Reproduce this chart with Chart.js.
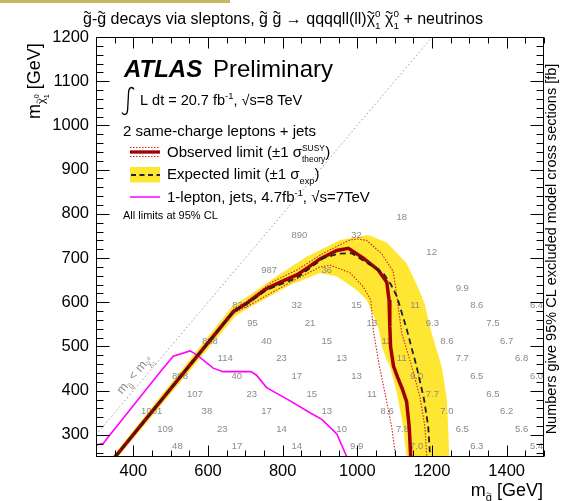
<!DOCTYPE html>
<html><head><meta charset="utf-8">
<script src="https://cdn.jsdelivr.net/npm/chart.js@4.4.1/dist/chart.umd.min.js"></script>
<style>html,body{margin:0;padding:0;background:#fff;}#wrap{width:563px;height:501px;position:relative;}</style>
</head><body><div id="wrap"><canvas id="c" width="563" height="501"></canvas></div>
<script>
// ---------- data ----------
const xTickLabels = [400, 600, 800, 1000, 1200, 1400];
const yTickLabels = [300, 400, 500, 600, 700, 800, 900, 1000, 1100, 1200];
const observedLimit = [[351,250],[668,579],[704,598],[757,631],[800,648],[838,662],[870,680],[900,698],[945,717],[976,722],[1016,700],[1056,673],[1079,645],[1085,605],[1087,545],[1089,500],[1097,455],[1108,430],[1120,405],[1132,375],[1139,318],[1143,250]];
const observedUp = [[349,250],[668,583],[704,602],[770,645],[838,673],[909,711],[980,741],[1000,743],[1025,740],[1065,710],[1096,670],[1104,625],[1119,530],[1146,454],[1168,385],[1181,318],[1186,250]];
const observedDown = [[353,250],[668,575],[704,590],[820,645],[900,680],[927,684],[980,667],[1016,635],[1036,605],[1043,535],[1058,460],[1075,390],[1092,318],[1103,250]];
const expectedLimit = [[351,250],[668,579],[704,596],[757,628],[838,655],[909,700],[950,710],[985,711],[1043,680],[1070,665],[1090,640],[1106,613],[1132,540],[1146,495],[1159,454],[1179,379],[1190,318],[1195,250]];
const expectedBandUp = [[343,250],[664,590],[704,612],[775,654],[864,703],[954,741],[1029,752],[1079,735],[1132,688],[1159,640],[1180,598],[1199,530],[1226,454],[1240,379],[1244,303],[1246,250]];
const expectedBandDown = [[359,250],[672,568],[704,585],[820,639],[900,666],[945,658],[998,628],[1025,605],[1045,567],[1058,537],[1066,500],[1079,469],[1088,454],[1106,395],[1123,318],[1132,250]];
const oneLepton7TeV = [[300,277],[320,281],[337,300],[476,447],[507,478],[552,490],[570,481],[614,451],[640,443],[715,443],[730,435],[757,407],[820,377],[873,350],[905,335],[945,302],[972,250]];
const kinematicDiagonal = [[300,300],[1200,1200]];
// excluded cross sections [fb]
const xsecText = ['18','890','32','12','987','36','9.9',
 '838','32','15','11','8.6','6.4',
 '95','21','13','9.3','7.5',
 '888','40','15','12','8.6','6.7',
 '114','23','13','11','7.7','6.8',
 '898','40','17','13','9.0','6.5','6.0',
 '107','23','15','11','7.7','6.5',
 '1001','38','17','13','8.6','7.0','6.2',
 '109','23','14','10','7.8','6.5','5.6',
 '48','17','14','9.9','7.0','6.3','5.4'];
const xsecGluino = [1119,845,998,1199,764,918,1281,
 686,838,998,1155,1320,1480,
 719,873,1039,1201,1363,
 605,757,918,1079,1240,1400,
 646,797,958,1119,1281,1440,
 525,677,838,998,1159,1320,1480,
 565,717,878,1039,1201,1363,
 449,597,757,918,1080,1240,1400,
 485,638,797,958,1121,1281,1440,
 518,678,838,998,1159,1320,1480];
const xsecNeutralino = [792,752,752,712,671,671,632,
 592,592,592,592,592,592,
 552,552,552,552,552,
 512,512,512,512,512,512,
 472,472,472,472,472,472,
 432,432,432,432,432,432,432,
 392,392,392,392,392,392,
 354,354,354,354,354,354,354,
 313,313,313,313,313,313,313,
 273,273,273,273,273,273,273];

// ---------- helpers ----------
const FONT = "'Liberation Sans', Arial, Helvetica, sans-serif";
function setFont(ctx, size, style){ ctx.font = (style ? style + ' ' : '') + size + 'px ' + FONT; }
function partWidth(ctx, p, base){
  const s = base * (p.s || 1);
  setFont(ctx, s, p.f);
  if (p.st) return Math.max(...p.st.map(q => ctx.measureText(q.t).width));
  return ctx.measureText(p.t).width;
}
function drawTilde(ctx, cx, ty, s){
  const hw = s * 0.2, a = s * 0.055;
  ctx.save(); ctx.beginPath();
  for (let i = 0; i <= 14; i++){
    const t = i / 14, px = cx - hw + 2 * hw * t, py = ty - a * Math.sin(2 * Math.PI * t);
    if (i) ctx.lineTo(px, py); else ctx.moveTo(px, py);
  }
  ctx.lineWidth = Math.max(0.7, s * 0.065); ctx.strokeStyle = ctx.fillStyle; ctx.setLineDash([]); ctx.stroke(); ctx.restore();
}
function drawRich(ctx, x, y, parts, base, align){
  let w = 0; parts.forEach(p => w += partWidth(ctx, p, base));
  if (align === 'right') x -= w; else if (align === 'center') x -= w / 2;
  ctx.textAlign = 'left'; ctx.textBaseline = 'alphabetic';
  for (const p of parts){
    const s = base * (p.s || 1);
    const pw = partWidth(ctx, p, base);
    if (p.st){ for (const q of p.st) ctx.fillText(q.t, x, y + q.dy * base); }
    else {
      const yy = y + (p.dy || 0) * base;
      ctx.fillText(p.t, x, yy);
      if (p.tilde) drawTilde(ctx, x + pw / 2, yy - s * 0.72, s);
    }
    x += pw;
  }
  return w;
}
const chi01 = () => [{t:'χ', tilde:true}, {st:[{t:'0', dy:-0.42}, {t:'1', dy:0.3}], s:0.62}];

// ---------- plugins ----------
const numbersPlugin = {
  id: 'xsecNumbers',
  afterDatasetDraw(chart, args){
    if (args.index !== 0) return;
    const ctx = chart.ctx, xs = chart.scales.x, ys = chart.scales.y, a = chart.chartArea;
    ctx.save();
    ctx.beginPath(); ctx.rect(a.left, a.top, a.right - a.left, a.bottom - a.top); ctx.clip();
    setFont(ctx, 9.5); ctx.fillStyle = '#8a8a8a'; ctx.textAlign = 'center'; ctx.textBaseline = 'middle';
    for (let i = 0; i < xsecText.length; i++){
      ctx.fillText(xsecText[i], xs.getPixelForValue(xsecGluino[i]), ys.getPixelForValue(xsecNeutralino[i]));
    }
    ctx.restore();
  }
};

const decorPlugin = {
  id: 'decor',
  afterDraw(chart){
    const ctx = chart.ctx, xs = chart.scales.x, ys = chart.scales.y, a = chart.chartArea;
    ctx.save();
    // olive strip
    ctx.fillStyle = '#c8b85c'; ctx.fillRect(0, 0, 230, 3);
    // frame
    ctx.strokeStyle = '#000'; ctx.lineWidth = 1; ctx.setLineDash([]);
    const L = Math.round(a.left) + 0.5, R = Math.round(a.right) - 0.5, T = Math.round(a.top) + 0.5, B = Math.round(a.bottom) - 0.5;
    ctx.strokeRect(L, T, R - L, B - T);
    ctx.beginPath();
    for (let v = 300; v <= 1500; v += 50){
      const p = Math.round(xs.getPixelForValue(v)) + 0.5;
      const len = (v % 200 === 0) ? 11 : 6;
      ctx.moveTo(p, B); ctx.lineTo(p, B - len);
      ctx.moveTo(p, T); ctx.lineTo(p, T + len);
    }
    for (let v = 260; v <= 1200; v += 20){
      const p = Math.round(ys.getPixelForValue(v)) + 0.5;
      const len = (v % 100 === 0) ? 13 : 7;
      ctx.moveTo(L, p); ctx.lineTo(L + len, p);
      ctx.moveTo(R, p); ctx.lineTo(R - len, p);
    }
    ctx.stroke();

    ctx.fillStyle = '#000';
    // title
    const g = {t:'g', tilde:true};
    drawRich(ctx, 83, 24, [g, {t:'-'}, g, {t:' decays via sleptons, '}, g, {t:' '}, g, {t:' → qqqqll(ll)'},
      ...chi01(), {t:' '}, ...chi01(), {t:' + neutrinos'}], 16, 'left');
    // y title
    ctx.save(); ctx.translate(40, 119); ctx.rotate(-Math.PI / 2);
    drawRich(ctx, 0, 0, [{t:'m'}, {t:'χ', tilde:true, s:0.62, dy:0.3}, {st:[{t:'0', dy:-0.08}, {t:'1', dy:0.5}], s:0.4}, {t:' [GeV]'}], 18, 'left');
    ctx.restore();
    // x title
    drawRich(ctx, 543, 496, [{t:'m'}, {t:'g', tilde:true, s:0.62, dy:0.3}, {t:' [GeV]'}], 18, 'right');
    // right title
    ctx.save(); ctx.translate(552, 249); ctx.rotate(-Math.PI / 2);
    setFont(ctx, 14.5); ctx.textAlign = 'center'; ctx.textBaseline = 'middle';
    ctx.fillText('Numbers give 95% CL excluded model cross sections [fb]', 0, 0);
    ctx.restore();

    // ATLAS
    setFont(ctx, 24, 'bold italic'); ctx.textAlign = 'left'; ctx.textBaseline = 'alphabetic';
    ctx.fillText('ATLAS', 124, 77);
    setFont(ctx, 24); ctx.fillText('Preliminary', 213, 77);
    // integral
    ctx.beginPath(); ctx.lineWidth = 1.3;
    ctx.moveTo(134, 89.5); ctx.bezierCurveTo(132.5, 86.5, 129, 86.5, 128.6, 92);
    ctx.lineTo(127.6, 110); ctx.bezierCurveTo(127.2, 115.5, 123.5, 115.5, 122, 112.5); ctx.stroke();
    drawRich(ctx, 140, 105, [{t:'L dt = 20.7 fb'}, {t:'-1', s:0.65, dy:-0.42}, {t:', √s=8 TeV'}], 14.5, 'left');
    setFont(ctx, 15); ctx.fillText('2 same-charge leptons + jets', 123, 136);

    // legend swatches
    ctx.lineCap = 'butt';
    ctx.strokeStyle = '#d42020'; ctx.lineWidth = 1; ctx.setLineDash([1.5, 1.5]);
    ctx.beginPath(); ctx.moveTo(130, 147.5); ctx.lineTo(160, 147.5); ctx.moveTo(130, 156.5); ctx.lineTo(160, 156.5); ctx.stroke();
    ctx.setLineDash([]); ctx.strokeStyle = '#a00000'; ctx.lineWidth = 3.3;
    ctx.beginPath(); ctx.moveTo(130, 152); ctx.lineTo(160, 152); ctx.stroke();
    ctx.fillStyle = '#ffe632'; ctx.fillRect(130, 167, 30, 15.5);
    ctx.strokeStyle = '#1c2233'; ctx.lineWidth = 1.8; ctx.setLineDash([5, 3.5]);
    ctx.beginPath(); ctx.moveTo(131, 175); ctx.lineTo(160, 175); ctx.stroke();
    ctx.setLineDash([]); ctx.strokeStyle = '#ff00ff'; ctx.lineWidth = 1.5;
    ctx.beginPath(); ctx.moveTo(130, 197); ctx.lineTo(160, 197); ctx.stroke();
    ctx.fillStyle = '#000';
    drawRich(ctx, 167, 157, [{t:'Observed limit (±1 σ'}, {st:[{t:'SUSY', dy:-0.42}, {t:'theory', dy:0.32}], s:0.56}, {t:')'}], 15, 'left');
    drawRich(ctx, 167, 179, [{t:'Expected limit (±1 σ'}, {t:'exp', s:0.62, dy:0.32}, {t:')'}], 15, 'left');
    drawRich(ctx, 167, 202, [{t:'1-lepton, jets, 4.7fb'}, {t:'-1', s:0.62, dy:-0.42}, {t:', √s=7TeV'}], 15, 'left');
    setFont(ctx, 11); ctx.fillText('All limits at 95% CL', 123, 219);

    // diagonal label
    const v = 422;
    const px = xs.getPixelForValue(v), py = ys.getPixelForValue(v);
    const p2x = xs.getPixelForValue(v + 100), p2y = ys.getPixelForValue(v + 100);
    const ang = Math.atan2(p2y - py, p2x - px);
    const nx = Math.sin(ang), ny = -Math.cos(ang);
    ctx.save(); ctx.translate(px + nx * 6, py + ny * 6); ctx.rotate(ang);
    ctx.fillStyle = '#8a8a8a';
    drawRich(ctx, 0, 0, [{t:'m'}, {t:'g', tilde:true, s:0.62, dy:0.3}, {t:' < m'}, {t:'χ', tilde:true, s:0.62, dy:0.3}, {st:[{t:'0', dy:-0.1}, {t:'1', dy:0.5}], s:0.42}], 12.5, 'center');
    ctx.restore();
    ctx.restore();
  }
};

// ---------- chart ----------
const lineDs = (data, color, width, dash, order) => ({data, borderColor:color, borderWidth:width, borderDash:dash, fill:false, pointRadius:0, tension:0, order});
new Chart(document.getElementById('c'), {
  type: 'line',
  data: { datasets: [
    {data: expectedBandUp.concat(expectedBandDown.slice().reverse()), fill:'shape', backgroundColor:'#ffe632', borderColor:'rgba(0,0,0,0)', borderWidth:0, pointRadius:0, tension:0, order:10},
    lineDs(kinematicDiagonal, '#9a9a9a', 1, [1.5, 2.5], 9),
    lineDs(oneLepton7TeV, '#ff00ff', 1.6, [], 8),
    lineDs(observedUp, '#d42020', 1.1, [1.5, 1.5], 7),
    lineDs(observedDown, '#d42020', 1.1, [1.5, 1.5], 6),
    lineDs(observedLimit, '#a00000', 3.5, [], 5),
    lineDs(expectedLimit, '#1c2233', 1.8, [6, 4], 4)
  ]},
  options: {
    responsive: false, animation: false, events: [],
    layout: { padding: { left: 0, top: 37, right: 19, bottom: 0 } },
    plugins: { legend: {display:false}, tooltip: {enabled:false}, title: {display:false} },
    scales: {
      x: { type:'linear', min:300, max:1500,
        afterBuildTicks: s => { s.ticks = xTickLabels.map(v => ({value:v})); },
        afterFit: s => { s.height = 44; },
        ticks: { callback: v => String(v), color:'#000', font:{size:16.5, family:FONT}, padding:5, maxRotation:0, autoSkip:false },
        grid: { display:false, drawTicks:false }, border: { display:false } },
      y: { type:'linear', min:250, max:1200,
        afterBuildTicks: s => { s.ticks = yTickLabels.map(v => ({value:v})); },
        afterFit: s => { s.width = 96; },
        ticks: { callback: v => String(v), color:'#000', font:{size:16.5, family:FONT}, padding:7, autoSkip:false },
        grid: { display:false, drawTicks:false }, border: { display:false } }
    }
  },
  plugins: [numbersPlugin, decorPlugin]
});
</script></body></html>
